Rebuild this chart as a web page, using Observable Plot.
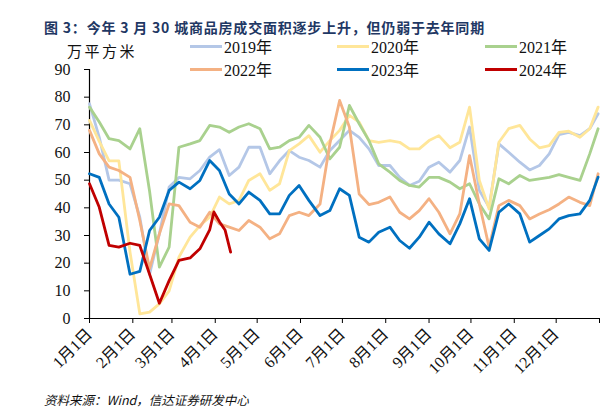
<!DOCTYPE html>
<html>
<head>
<meta charset="utf-8">
<script src="https://cdn.jsdelivr.net/npm/d3@7"></script>
<script src="https://cdn.jsdelivr.net/npm/@observablehq/plot@0.6"></script>
<style>
  html, body { margin: 0; padding: 0; background: #fff; }
  #wrap { position: relative; width: 614px; height: 413px; overflow: hidden; background: #fff; }
  #title { position: absolute; left: 44px; top: 18px; font: bold 14px "Noto Sans CJK SC", sans-serif; color: #1f3864; letter-spacing: 0.8px; white-space: nowrap; line-height: 18px; }
  #unit { position: absolute; left: 67px; top: 41px; font: 15px "Noto Sans CJK SC", sans-serif; letter-spacing: 2.5px; color: #111; line-height: 20px; white-space: nowrap; }
  #chart { position: absolute; left: 0; top: 40px; }
  .lg { position: absolute; display: flex; align-items: center; height: 20px; font: 16px "Liberation Serif", "Noto Sans CJK SC", serif; color: #111; white-space: nowrap; }
  .lg span.sw { display: inline-block; width: 32px; height: 3px; margin-right: 2px; }
  #caption { position: absolute; left: 44px; top: 391px; font: italic 12.5px "Noto Sans CJK SC", "Liberation Sans", sans-serif; color: #111; white-space: nowrap; line-height: 18px; }
</style>
</head>
<body>
<div id="wrap">
  <div id="title">图 3：今年 3 月 30 城商品房成交面积逐步上升，但仍弱于去年同期</div>
  <div id="unit">万平方米</div>
  <div id="chart"></div>
  <div id="legend"></div>
  <div id="caption">资料来源：Wind，信达证券研发中心</div>
</div>
<script>
// ---- data (day of year, values in 万平方米) ----
const days = [0,7,14,21,29,36,43,50,57,64,72,79,86,93,100,107,114,122,129,136,143,150,157,165,172,179,186,193,200,207,215,222,229,236,243,250,258,265,272,279,286,293,300,308,315,322,329,336,343,351,358,364];

const v2019 = [77.6,65.5,50,50,48.7,36.6,16,30.6,47.5,
  51,50.5,53.5,58.3,61,51.7,54.7,61.9,
  61.9,52.3,57,60.7,58.3,57.1,54.7,60.7,64.3,
  68,65.5,61.3,55.3,55.3,51,48.1,49.6,
  54.7,56.5,52.9,57.1,69.2,46.3,40.2,63.1,60.1,
  56.5,53.7,55.3,59.5,66.5,67.3,66.1,68.6,74];

const v2020 = [71.6,64,57,57,24,1.7,2.3,5.3,10,
  22.2,29.4,33.6,36.6,43.9,41.4,42.7,49.9,
  52.3,46.3,48.7,60.7,63.1,66.1,60.1,64.3,68,
  73.4,71,64.3,63.7,64.3,63.7,61.3,61.3,
  64.3,66.1,61.7,63.7,76.4,49.9,39.6,63.7,68.6,
  69.8,64.9,61.7,62.5,67.3,67.7,65.5,68.6,76.4];

const v2021 = [76.4,71,65,64.3,61.3,68.6,46,18.6,25.8,
  61.9,63.1,64.3,69.8,69.2,67.3,69.2,70.4,
  68.6,61.3,61.9,64.3,65.5,69.8,65.5,57.7,61.9,
  77,70.4,64.3,55.9,52.9,49.9,48.1,47.5,
  51,51,49.3,46.9,48.7,41.4,36,50.5,48.7,
  51.7,49.9,50.5,51,52,51,49.9,59.5,68.6];

const v2022 = [68,59.5,54.7,53.5,51,35.4,18,30.6,41.4,
  40.8,34.8,33,38.4,34.2,33,31.8,35.4,
  33,28.8,30.6,37.2,38.4,37.2,41.4,63.1,78.8,
  69.2,45,41.2,42,43.9,38.4,36,39,
  43.3,38.4,30.6,37.8,58.9,41.4,25.8,40.8,42.7,
  40.8,36,37.8,39.3,41.4,43.9,42,40.8,52.3];

const v2023 = [52.3,51,41.4,36.6,16,17,31.8,36.6,46.3,
  49.3,46.9,49.9,57.1,53.5,45,41.4,45.7,
  42.7,37.8,37.8,44.5,48.1,42.7,37.2,39,46.9,
  44.5,29.4,27.6,31.2,33,28.2,25.4,29.4,
  34.8,30.6,27,34.2,43.3,28.8,24.6,38.4,41.4,
  37.8,27.6,30,32.4,36,37.2,37.8,42.7,51.1];

const days2024 = [0,7,14,21,29,36,43,50,57,64,72,79,86,89,93,97,101];
const v2024 = [48.7,40.2,26.4,25.8,27.2,26.4,16,5.5,13.7,21,21.9,25.2,32,38.5,35,32,24];

const years = ["2019年","2020年","2021年","2022年","2023年","2024年"];
const colors = ["#b4c7e7","#ffe699","#a9d18e","#f4b183","#0070c0","#c00000"];

const monthTicks = [0,31,59,90,120,151,181,212,243,273,304,334,365];
const monthLabels = ["1月1日","2月1日","3月1日","4月1日","5月1日","6月1日","7月1日","8月1日","9月1日","10月1日","11月1日","12月1日",""];
const yTicks = [0,10,20,30,40,50,60,70,80,90];

// ---- build table ----
const seriesList = [
  {name: years[0], d: days, v: v2019},
  {name: years[1], d: days, v: v2020},
  {name: years[2], d: days, v: v2021},
  {name: years[3], d: days, v: v2022},
  {name: years[4], d: days, v: v2023},
  {name: years[5], d: days2024, v: v2024}
];
const rows = seriesList.flatMap(s => s.v.map((val, i) => ({year: s.name, day: s.d[i], value: val})));

const fontStack = "'Liberation Serif', 'Noto Sans CJK SC', serif";

const chart = Plot.plot({
  width: 614,
  height: 340,
  marginTop: 29,
  marginBottom: 62,
  marginLeft: 89,
  marginRight: 15,
  style: {fontFamily: fontStack, fontSize: "16px", color: "#111", background: "transparent", overflow: "visible"},
  x: {domain: [0, 365]},
  y: {domain: [0, 90]},
  color: {domain: years, range: colors},
  marks: [
    Plot.axisY({ticks: yTicks, tickSize: 5, tickPadding: 14, label: null, fontSize: 16, stroke: "#000"}),
    Plot.axisX({ticks: monthTicks, tickFormat: (d, i) => monthLabels[i], tickRotate: -45, tickSize: 5, tickPadding: 8, label: null, fontSize: 16, stroke: "#000"}),
    Plot.ruleX([0], {stroke: "#000", strokeWidth: 1.2}),
    Plot.ruleY([0], {stroke: "#000", strokeWidth: 1.2}),
    Plot.line(rows, {x: "day", y: "value", z: "year", stroke: "year", strokeWidth: 2.8, strokeLinejoin: "round", strokeLinecap: "round"})
  ]
});
document.getElementById("chart").appendChild(chart);

// ---- legend ----
const legend = document.getElementById("legend");
const colX = [190, 337, 485];
const rowY = [46, 69];
years.forEach((y, i) => {
  const item = document.createElement("div");
  item.className = "lg";
  item.style.left = colX[i % 3] + "px";
  item.style.top = (rowY[Math.floor(i / 3)] - 10) + "px";
  const sw = document.createElement("span");
  sw.className = "sw";
  sw.style.background = colors[i];
  item.appendChild(sw);
  item.appendChild(document.createTextNode(y));
  legend.appendChild(item);
});
</script>
</body>
</html>
